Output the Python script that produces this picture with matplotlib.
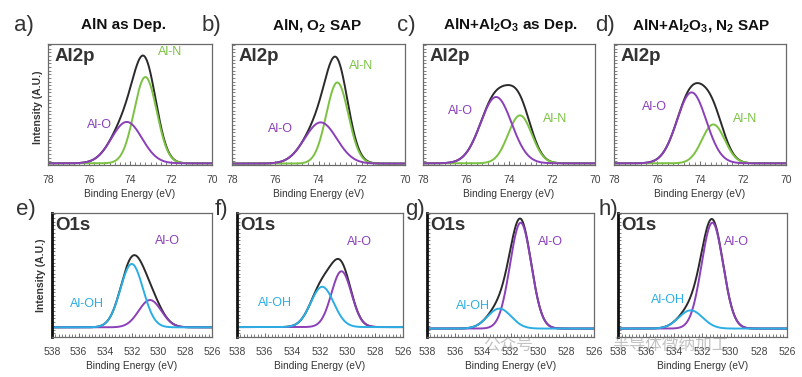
import numpy as np
import matplotlib
matplotlib.use("Agg")
import matplotlib.pyplot as plt
from matplotlib.ticker import MultipleLocator

plt.rcParams['font.family'] = ['Liberation Sans', 'DejaVu Sans']
plt.rcParams['mathtext.fontset'] = 'custom'
plt.rcParams['mathtext.rm'] = 'Liberation Sans:bold'
plt.rcParams['mathtext.it'] = 'Liberation Sans:bold'
plt.rcParams['mathtext.bf'] = 'Liberation Sans:bold'

# ---------------- data (peak-fit parameters) ----------------
titles = ["AlN as Dep.", "AlN, O$_2$ SAP", "AlN+Al$_2$O$_3$ as Dep.", "AlN+Al$_2$O$_3$, N$_2$ SAP"]
top_letters = ["a)", "b)", "c)", "d)"]
bot_letters = ["e)", "f)", "g)", "h)"]

al_xticks = [78, 76, 74, 72, 70]
o_xticks = [538, 536, 534, 532, 530, 528, 526]

# Al2p components: Al-O and Al-N (center eV, height, FWHM eV)
al_AlO_center = [74.16, 73.90, 74.60, 74.39]
al_AlO_height = [0.342, 0.340, 0.548, 0.586]
al_AlO_fwhm = [1.75, 1.75, 1.70, 1.60]
al_AlN_center = [73.25, 73.13, 73.49, 73.38]
al_AlN_height = [0.713, 0.670, 0.396, 0.321]
al_AlN_fwhm = [1.30, 1.20, 1.30, 1.25]
al_baseline = [0.014, 0.012, 0.014, 0.014]

# O1s components: Al-OH and Al-O
o_AlOH_center = [532.02, 531.84, 532.80, 532.84]
o_AlOH_height = [0.511, 0.325, 0.161, 0.147]
o_AlOH_fwhm = [2.00, 1.95, 2.00, 2.00]
o_AlO_center = [530.65, 530.45, 531.27, 531.30]
o_AlO_height = [0.220, 0.450, 0.854, 0.854]
o_AlO_fwhm = [2.00, 1.70, 1.80, 1.80]
o_baseline = [0.078, 0.080, 0.068, 0.068]

# label positions (eV, relative intensity)
al_lab_AlN = [(72.05, 0.93), (72.05, 0.82), (71.86, 0.38), (71.90, 0.38)]
al_lab_AlO = [(75.49, 0.33), (75.75, 0.30), (76.28, 0.45), (76.12, 0.48)]
o_lab_AlO = [(529.37, 0.774), (529.13, 0.77), (529.14, 0.77), (529.58, 0.77)]
o_lab_AlOH = [(535.34, 0.266), (535.28, 0.276), (534.72, 0.248), (534.46, 0.30)]

# ---------------- style ----------------
C_BLACK = '#2a2a2a'
C_GREEN = '#7cc242'
C_PURPLE = '#8b3fb8'
C_CYAN = '#2aaee3'
C_TEXT = '#333333'
C_FRAME = '#6a6a6a'

W, H = 803, 377
fig = plt.figure(figsize=(W / 100, H / 100), dpi=100)


def px_axes(x0, y0, x1, y1):
    return fig.add_axes([x0 / W, 1 - y1 / H, (x1 - x0) / W, (y1 - y0) / H])


def gauss(x, c, h, w):
    return h * np.exp(-4 * np.log(2) * ((x - c) / w) ** 2)


top_boxes = [(48, 44, 212, 165), (232, 44, 405, 165), (423, 44, 595, 165), (614, 44, 786, 165)]
bot_boxes = [(52, 213, 212, 337), (237, 213, 403, 337), (427, 213, 594, 337), (618, 213, 787, 337)]
title_cx = [124, 317, 510, 701]
top_letter_x = [14, 202, 397, 595]
bot_letter_x = [16, 215, 405, 599]


def style_axes(ax, xlim, xticks, minor, thick_left):
    ax.set_xlim(*xlim)
    ax.set_ylim(0, 1)
    ax.set_xticks(xticks)
    ax.set_xticklabels([str(t) for t in xticks])
    ax.xaxis.set_minor_locator(MultipleLocator(minor))
    ax.set_yticks([])
    ax.yaxis.set_minor_locator(MultipleLocator(0.03))
    ax.tick_params(axis='x', which='major', direction='in', length=3, width=0.7,
                   colors=C_FRAME, labelcolor='#444444', labelsize=7.5, pad=7)
    ax.tick_params(axis='x', which='minor', direction='in', length=2, width=0.6, colors=C_FRAME)
    ax.tick_params(axis='y', which='minor', direction='in', length=2, width=0.6, colors=C_FRAME)
    for s in ax.spines.values():
        s.set_color(C_FRAME)
        s.set_linewidth(0.9)
    if thick_left:
        ax.spines['left'].set_color('#111111')
        ax.spines['left'].set_linewidth(2.0)
    ax.set_xlabel("Binding Energy (eV)", fontsize=7.3, color=C_TEXT, labelpad=3)


x_al = np.linspace(78, 70, 600)
x_o = np.linspace(538, 526, 600)

for i in range(4):
    # ---- Al2p row ----
    ax = px_axes(*top_boxes[i])
    b = al_baseline[i]
    yo = gauss(x_al, al_AlO_center[i], al_AlO_height[i], al_AlO_fwhm[i])
    yn = gauss(x_al, al_AlN_center[i], al_AlN_height[i], al_AlN_fwhm[i])
    ax.plot(x_al, b + yo + yn, color=C_BLACK, lw=1.4)
    ax.plot(x_al, b + yn, color=C_GREEN, lw=1.4)
    ax.plot(x_al, b + yo, color=C_PURPLE, lw=1.4)
    style_axes(ax, (78, 70), al_xticks, 0.25, False)
    ax.text(0.04, 0.97, "Al2p", transform=ax.transAxes, fontsize=13.5, fontweight='bold',
            color=C_TEXT, ha='left', va='top')
    ax.text(*al_lab_AlN[i], "Al-N", color=C_GREEN, fontsize=9, ha='center', va='center')
    ax.text(*al_lab_AlO[i], "Al-O", color=C_PURPLE, fontsize=9, ha='center', va='center')
    fig.text(title_cx[i] / W, 1 - 25 / H, titles[i], fontsize=11, fontweight='bold',
             color='#111111', ha='center', va='center')
    fig.text(top_letter_x[i] / W, 1 - 25 / H, top_letters[i], fontsize=16, color=C_TEXT,
             ha='left', va='center')
    if i == 0:
        ax.set_ylabel("Intensity (A.U.)", fontsize=7.5, fontweight='bold', color=C_TEXT)
        ax.yaxis.set_label_coords(-0.03, 0.48)

    # ---- O1s row ----
    ax = px_axes(*bot_boxes[i])
    b = o_baseline[i]
    yo = gauss(x_o, o_AlO_center[i], o_AlO_height[i], o_AlO_fwhm[i])
    yh = gauss(x_o, o_AlOH_center[i], o_AlOH_height[i], o_AlOH_fwhm[i])
    ax.plot(x_o, b + yo + yh, color=C_BLACK, lw=1.4)
    ax.plot(x_o, b + yo, color=C_PURPLE, lw=1.4)
    ax.plot(x_o, b + yh, color=C_CYAN, lw=1.4)
    style_axes(ax, (538, 526), o_xticks, 0.25, True)
    ax.text(0.02, 0.97, "O1s", transform=ax.transAxes, fontsize=13.5, fontweight='bold',
            color=C_TEXT, ha='left', va='top')
    ax.text(*o_lab_AlO[i], "Al-O", color=C_PURPLE, fontsize=9, ha='center', va='center')
    ax.text(*o_lab_AlOH[i], "Al-OH", color=C_CYAN, fontsize=9, ha='center', va='center')
    fig.text(bot_letter_x[i] / W, 1 - 210 / H, bot_letters[i], fontsize=16, color=C_TEXT,
             ha='left', va='center')
    if i == 0:
        ax.set_ylabel("Intensity (A.U.)", fontsize=7.5, fontweight='bold', color=C_TEXT)
        ax.yaxis.set_label_coords(-0.04, 0.5)

# faint watermark
fig.text(508 / W, 1 - 345 / H, "公众号", fontsize=12, color='#888888', alpha=0.5,
         ha='center', va='center', family=['Noto Sans CJK SC', 'DejaVu Sans'])
fig.text(670 / W, 1 - 345 / H, "半导体微纳加工", fontsize=12, color='#888888', alpha=0.5,
         ha='center', va='center', family=['Noto Sans CJK SC', 'DejaVu Sans'])

fig.savefig("out.png", dpi=100)
